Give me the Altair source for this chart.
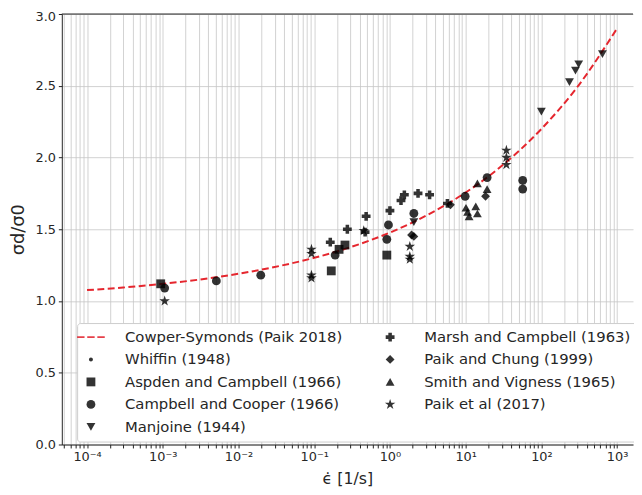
import json
import altair as alt
import pandas as pd

# ---------------- data ----------------
CURVE_NAME = "Cowper-Symonds (Paik 2018)"
curve_x = [1e-4, 3e-4, 1e-3, 3e-3, 1e-2, 3e-2, 0.1, 0.3, 1, 3, 10, 30, 100, 300, 1000]
curve_y = [1.076, 1.094, 1.120, 1.149, 1.190, 1.237, 1.301, 1.375, 1.477, 1.595,
           1.756, 1.942, 2.199, 2.493, 2.900]

whiffin_x = []
whiffin_y = []

aspden_x = [9.4e-4, 0.168, 0.213, 0.255, 0.91]
aspden_y = [1.12, 1.21, 1.36, 1.39, 1.32]

campbell_x = [1.06e-3, 5.1e-3, 0.0197, 0.189, 0.91, 0.956, 2.07, 9.85, 19.2, 56.7, 56.7]
campbell_y = [1.09, 1.14, 1.18, 1.32, 1.43, 1.53, 1.61, 1.73, 1.86, 1.84, 1.78]

manjoine_x = [2.07, 100, 235, 282, 311, 640]
manjoine_y = [1.55, 2.32, 2.525, 2.605, 2.65, 2.72]

marsh_x = [0.163, 0.274, 0.47, 0.485, 1.0, 1.40, 1.55, 2.35, 3.34, 5.74]
marsh_y = [1.41, 1.50, 1.48, 1.59, 1.63, 1.70, 1.74, 1.75, 1.74, 1.68]

paikchung_x = [1.93, 2.07, 6.3, 18.3]
paikchung_y = [1.46, 1.45, 1.67, 1.73]

smith_x = [10.6, 11.1, 10.1, 13.6, 14.3, 14.3, 19.2]
smith_y = [1.62, 1.59, 1.65, 1.66, 1.61, 1.82, 1.78]

paiket_x = [1.06e-3, 0.092, 0.092, 0.092, 0.092, 0.451, 1.83, 1.83, 1.83, 34.5, 34.5, 34.5]
paiket_y = [1.00, 1.36, 1.33, 1.18, 1.16, 1.49, 1.38, 1.31, 1.29, 2.05, 2.00, 1.95]

SERIES = [
    ("Whiffin (1948)", whiffin_x, whiffin_y),
    ("Aspden and Campbell (1966)", aspden_x, aspden_y),
    ("Campbell and Cooper (1966)", campbell_x, campbell_y),
    ("Manjoine (1944)", manjoine_x, manjoine_y),
    ("Marsh and Campbell (1963)", marsh_x, marsh_y),
    ("Paik and Chung (1999)", paikchung_x, paikchung_y),
    ("Smith and Vigness (1965)", smith_x, smith_y),
    ("Paik et al (2017)", paiket_x, paiket_y),
]

# legend entries (filled column by column, two columns)
LEGEND_ORDER = [CURVE_NAME] + [s[0] for s in SERIES]

X_TICK_LABELS = ["10⁻⁴", "10⁻³", "10⁻²", "10⁻¹", "10⁰", "10¹", "10²", "10³"]
Y_TICKS = [0.0, 0.5, 1.0, 1.5, 2.0, 2.5, 3.0]

# ---------------- styling ----------------
DASH = ("M-3.13,-0.22H-1.45V0.22H-3.13Z M-0.84,-0.22H0.84V0.22H-0.84Z "
        "M1.45,-0.22H3.13V0.22H1.45Z")
DOT = "M0.45,0A0.45,0.45,0,1,1,-0.45,0A0.45,0.45,0,1,1,0.45,0Z"
STAR = ("M0,-1.25L0.281,-0.386L1.189,-0.386L0.454,0.148L0.735,1.011L0,0.478"
        "L-0.735,1.011L-0.454,0.148L-1.189,-0.386L-0.281,-0.386Z")
SHAPES = {
    CURVE_NAME: DASH,
    "Whiffin (1948)": DOT,
    "Aspden and Campbell (1966)": "square",
    "Campbell and Cooper (1966)": "circle",
    "Manjoine (1944)": "triangle-down",
    "Marsh and Campbell (1963)": "cross",
    "Paik and Chung (1999)": "diamond",
    "Smith and Vigness (1965)": "triangle-up",
    "Paik et al (2017)": STAR,
}
RED = "#e5262e"
COLORS = {n: ("#e0101c" if n == CURVE_NAME else "#000000") for n in LEGEND_ORDER}

FONT = "DejaVu Sans"
TXT = "#262626"

rows = []
for name, xs, ys in SERIES:
    for x, y in zip(xs, ys):
        rows.append({"rate": x, "ratio": y, "series": name})
points_df = pd.DataFrame(rows)
curve_df = pd.DataFrame({"rate": curve_x, "ratio": curve_y})

lo, hi = 10 ** -4.333, 10 ** 3.21
x_ticks = []
for e in range(-5, 4):
    for k in range(1, 10):
        v = k * 10.0 ** e
        if lo <= v <= hi:
            x_ticks.append(v)

exp = "round(log(datum.value)/LN10)"
label_expr = (f"abs(log(datum.value)/LN10 - {exp}) < 0.001 ? "
              f"{json.dumps(X_TICK_LABELS, ensure_ascii=False)}[{exp} + 4] : ''")

x_scale = alt.Scale(type="log", domain=[lo, hi], nice=False)
y_scale = alt.Scale(domain=[0, 3], nice=False, zero=False)

x_axis = alt.Axis(values=x_ticks, labelExpr=label_expr, grid=True,
                  gridColor="#c6c6c6", gridWidth=0.8, tickSize=3.5,
                  tickColor="#222222", domainColor="#222222", domainWidth=1,
                  labelFont=FONT, labelFontSize=13, labelColor=TXT,
                  labelPadding=3, labelOverlap=False, labelFlush=False,
                  title="\u03f5\u0307 [1/s]", titleFont=FONT, titleFontSize=16,
                  titleFontWeight="normal", titleColor=TXT, titlePadding=7)
y_axis = alt.Axis(values=Y_TICKS, format=".1f", grid=True,
                  gridColor="#c6c6c6", gridWidth=0.8, tickSize=3.5,
                  tickColor="#222222", domainColor="#222222", domainWidth=1,
                  labelFont=FONT, labelFontSize=13, labelColor=TXT,
                  labelPadding=3, labelFlush=False,
                  labelOffset={"condition": {"test": "datum.value >= 3", "value": 3}, "value": 0},
                  title="σd/σ0", titleFont=FONT, titleFontSize=18,
                  titleFontWeight="normal", titleColor=TXT, titlePadding=8)

legend = alt.Legend(title=None, orient="none", legendX=15.5, legendY=313,
                    direction="vertical", columns=2,
                    fillColor="white", strokeColor="#cccccc", cornerRadius=3,
                    padding=6.5, labelFont=FONT, labelFontSize=15,
                    labelColor=TXT, labelLimit=400, symbolSize=80,
                    symbolOffset=0, labelOffset=27, rowPadding=6.8,
                    columnPadding=40, symbolStrokeWidth=0)

curve = alt.Chart(curve_df).mark_line(
    color=RED, strokeWidth=2, strokeDash=[7, 3.5], interpolate="monotone"
).encode(
    x=alt.X("rate:Q", scale=x_scale, axis=x_axis),
    y=alt.Y("ratio:Q", scale=y_scale, axis=y_axis),
)

points = alt.Chart(points_df).mark_point(filled=True, size=80, opacity=0.8).encode(
    x=alt.X("rate:Q", scale=x_scale, axis=x_axis),
    y=alt.Y("ratio:Q", scale=y_scale, axis=y_axis),
    shape=alt.Shape("series:N", scale=alt.Scale(domain=LEGEND_ORDER,
                    range=[SHAPES[n] for n in LEGEND_ORDER]), legend=legend),
    color=alt.Color("series:N", scale=alt.Scale(domain=LEGEND_ORDER,
                    range=[COLORS[n] for n in LEGEND_ORDER]), legend=legend),
)

spine = alt.Chart(pd.DataFrame({"t": [0]})).mark_rule(
    color="#222222", strokeWidth=1
).encode(y=alt.value(0))

chart = alt.layer(curve, points, spine).properties(
    width=578.5, height=436,
    autosize=alt.AutoSizeParams(type="none"),
    padding={"left": 54.5, "top": 3, "right": 1, "bottom": 45},
).configure_view(stroke=None)

chart.save("out.html", embed_options={"renderer": "svg", "actions": False})
